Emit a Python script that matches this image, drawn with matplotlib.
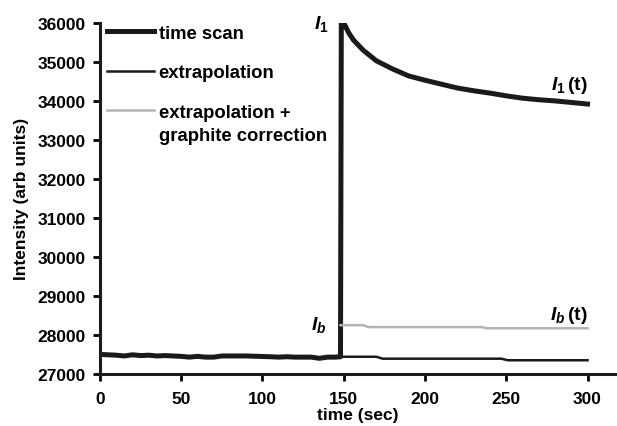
import matplotlib.pyplot as plt
import numpy as np
from matplotlib.legend_handler import HandlerLine2D

plt.rcParams['font.family'] = ['Liberation Sans', 'DejaVu Sans']
plt.rcParams['font.weight'] = 'bold'
plt.rcParams['mathtext.fontset'] = 'custom'
plt.rcParams['mathtext.it'] = 'Liberation Sans:bold:italic'
plt.rcParams['mathtext.rm'] = 'Liberation Sans:bold'

# time scan: flat background, jump at ~148 s, then decay
scan_t = [0, 5, 10, 15, 20, 25, 30, 35, 40, 50, 55, 60, 65, 70, 75, 90, 105, 110,
          115, 120, 130, 135, 140, 145, 148, 148.5, 150, 153, 156, 162, 170, 180,
          190, 200, 210, 220, 230, 240, 250, 260, 270, 280, 290, 300]
scan_i = [27500, 27490, 27480, 27460, 27490, 27470, 27480, 27460, 27470, 27450,
          27430, 27450, 27430, 27430, 27460, 27460, 27440, 27430, 27440, 27430,
          27430, 27400, 27430, 27430, 27440, 35980, 36000, 35750, 35560, 35300,
          35030, 34820, 34640, 34530, 34430, 34330, 34260, 34200, 34130, 34070,
          34030, 34000, 33960, 33920]

# extrapolated background
extr_t = [148, 170, 174, 247, 251, 300]
extr_i = [27440, 27440, 27390, 27390, 27350, 27350]

# extrapolation + graphite correction
corr_t = [148, 162, 165, 235, 238, 300]
corr_i = [28250, 28250, 28200, 28200, 28170, 28170]


class TopLineHandler(HandlerLine2D):
    # put the legend line next to the first line of a two-line label
    def create_artists(self, legend, orig_handle, xdescent, ydescent, width,
                       height, fontsize, trans):
        arts = super().create_artists(legend, orig_handle, xdescent, ydescent,
                                      width, height, fontsize, trans)
        for a in arts:
            a.set_ydata(np.asarray(a.get_ydata()) + fontsize * 0.72)
        return arts


fig = plt.figure(figsize=(6.17, 4.27), dpi=100)
ax = fig.add_axes([0.162, 0.122, 0.835, 0.822])

ax.plot(scan_t, scan_i, color='#1a1a1a', lw=3.6, solid_joinstyle='round', label='time scan')
ax.plot(extr_t, extr_i, color='#1a1a1a', lw=1.8, label='extrapolation')
gray, = ax.plot(corr_t, corr_i, color='#b4b4b4', lw=1.8,
                label='extrapolation +\ngraphite correction')

ax.set_xlim(0, 317)
ax.set_ylim(27000, 36000)
ax.set_xticks(np.arange(0, 301, 50))
ax.set_yticks(np.arange(27000, 36001, 1000))
ax.set_xlabel('time (sec)', fontsize=12.5, fontweight='bold', labelpad=1)
ax.set_ylabel('Intensity (arb units)', fontsize=12.5, fontweight='bold', labelpad=6)
ax.tick_params(labelsize=12.5, width=2, length=5, direction='out')
ax.tick_params(axis='x', pad=7)
ax.tick_params(axis='y', pad=5)
for lbl in ax.get_xticklabels() + ax.get_yticklabels():
    lbl.set_fontweight('bold')

for side in ['top', 'right']:
    ax.spines[side].set_visible(False)
for side in ['left', 'bottom']:
    ax.spines[side].set_linewidth(2.2)
    ax.spines[side].set_color('#1a1a1a')

leg = ax.legend(loc='upper left', frameon=False, fontsize=13.3, handlelength=2.5,
                handletextpad=0.27, labelspacing=1.22, borderaxespad=0.0,
                bbox_to_anchor=(0.0, 1.016),
                handler_map={gray: TopLineHandler()})
for txt in leg.get_texts():
    txt.set_fontweight('bold')
leg.get_texts()[2].set_linespacing(1.45)

ax.text(141, 36000, r'$I_{\mathit{1}}$', fontsize=14, ha='right', va='center')
ax.text(300, 34420, r'$I_{\mathit{1}}\,(\mathrm{t})$', fontsize=14, ha='right', va='center')
ax.text(139, 28270, r'$I_{\mathit{b}}$', fontsize=14, ha='right', va='center')
ax.text(300, 28520, r'$I_{\mathit{b}}\,(\mathrm{t})$', fontsize=14, ha='right', va='center')

fig.savefig('out.png', dpi=100)
